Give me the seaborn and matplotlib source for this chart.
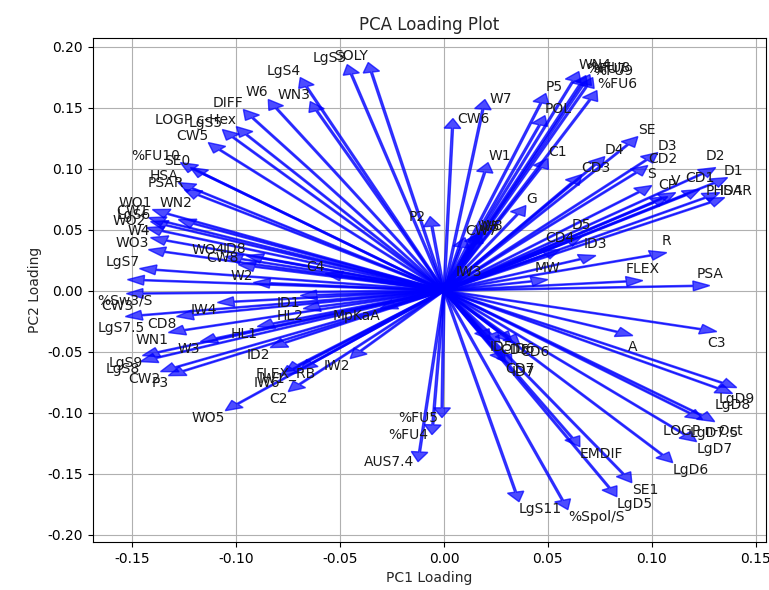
import numpy as np
import matplotlib
matplotlib.use("Agg")
import matplotlib.pyplot as plt
import seaborn as sns

# Descriptor loadings on the first two principal components (arrow tips)
features = [
    "LgS3", "SOLY", "LgS4", "WN3", "W6", "DIFF", "LgS5", "LOGP c-Hex", "CW5",
    "%FU10", "SE0", "HSA", "PSAR", "WO1", "WN2", "CW1", "LgS6", "WO2",
    "W4", "WO3", "LgS7", "CW3", "%Sw3/S", "LgS7.5", "CD8", "IW4", "WN1", "W3",
    "HL1", "ID2", "LgS9", "LgS8", "CW2", "P3", "IW2", "C2", "IW1", "IW6",
    "FLEX_RB", "WO5", "MpKaA", "ID1", "HL2", "C4", "W2", "CW8", "WO4", "ID8",
    "P2", "CW7", "W5", "W8", "IW3",
    "CW6", "W7", "W1", "G", "P5", "POL", "C1", "WN4", "%FU7", "%FU8",
    "%FU9", "%FU6", "SE", "D3", "CD2", "D4", "CD3", "S", "D2", "D1",
    "V", "CD1", "CP", "PHSAR", "ID4", "D5", "CD4", "ID3", "R", "MW",
    "FLEX", "PSA",
    "C3", "A", "LgD9", "LgD8", "LOGP n-Oct", "LgD7.5", "LgD7", "LgD6", "EMDIF", "SE1",
    "LgD5", "LgS11", "%Spol/S", "ID5", "CD5", "ID6", "CD6", "CD7", "ID7",
    "%FU5", "%FU4", "AUS7.4",
]
pc1 = [
    -0.0466, -0.0365, -0.0692, -0.0644, -0.0846, -0.0966, -0.1067, -0.1000, -0.1135,
    -0.1269, -0.1221, -0.1279, -0.1250, -0.1404, -0.1279, -0.1423, -0.1413, -0.1433,
    -0.1413, -0.1423, -0.1466, -0.1524, -0.1529, -0.1534, -0.1288, -0.1091, -0.1327, -0.1173,
    -0.0899, -0.0837, -0.1452, -0.1462, -0.1365, -0.1327, -0.0452, -0.0750, -0.0764, -0.0788,
    -0.0692, -0.1053, -0.0308, -0.0692, -0.0678, -0.0572, -0.0918, -0.0990, -0.1053, -0.0952,
    -0.0067, 0.0101, 0.0163, 0.0178, 0.0058,
    0.0043, 0.0197, 0.0212, 0.0394, 0.0490, 0.0486, 0.0500, 0.0649, 0.0683, 0.0702,
    0.0716, 0.0736, 0.0933, 0.1029, 0.0981, 0.0774, 0.0663, 0.1000, 0.1308, 0.1365,
    0.1115, 0.1231, 0.1077, 0.1327, 0.1351, 0.0663, 0.0558, 0.0731, 0.1072, 0.0500,
    0.0957, 0.1279,
    0.1313, 0.0909, 0.1409, 0.1389, 0.1245, 0.1303, 0.1216, 0.1101, 0.0654, 0.0904,
    0.0832, 0.0361, 0.0596, 0.0221, 0.0269, 0.0327, 0.0365, 0.0293, 0.0327,
    -0.0010, -0.0058, -0.0125,
]
pc2 = [
    0.1852, 0.1869, 0.1746, 0.1549, 0.1566, 0.1484, 0.1320, 0.1344, 0.1213,
    0.1049, 0.1008, 0.0885, 0.0828, 0.0664, 0.0582, 0.0598, 0.0566, 0.0516,
    0.0434, 0.0336, 0.0180, 0.0090, -0.0025, -0.0213, -0.0213, -0.0098, -0.0344, -0.0418,
    -0.0295, -0.0467, -0.0533, -0.0582, -0.0664, -0.0697, -0.0557, -0.0828, -0.0664, -0.0697,
    -0.0648, -0.0984, -0.0148, -0.0041, -0.0148, 0.0139, 0.0066, 0.0213, 0.0279, 0.0287,
    0.0607, 0.0434, 0.0467, 0.0475, 0.0098,
    0.1410, 0.1566, 0.1049, 0.0697, 0.1615, 0.1434, 0.1082, 0.1795, 0.1762, 0.1770,
    0.1746, 0.1639, 0.1262, 0.1131, 0.1025, 0.1098, 0.0951, 0.0861, 0.1008, 0.0926,
    0.0803, 0.0828, 0.0770, 0.0803, 0.0762, 0.0443, 0.0336, 0.0287, 0.0311, 0.0090,
    0.0082, 0.0041,
    -0.0336, -0.0369, -0.0795, -0.0844, -0.1057, -0.1074, -0.1238, -0.1410, -0.1279, -0.1574,
    -0.1689, -0.1730, -0.1795, -0.0402, -0.0426, -0.0418, -0.0443, -0.0582, -0.0607,
    -0.1041, -0.1180, -0.1402,
]

# labels shifted by hand (points) where they would sit on top of neighbours
label_nudge = {
    "%Sw3/S": (19, 0),
    "CW3": (4, -24),
    "LgS7.5": (14, -3),
    "WN2": (10, 7),
    "FLEX_RB": (11, 2),
    "PHSAR": (7, -7),
    "ID4": (5, -3),
    "D1": (4, -3),
}

sns.set_theme(style="ticks")
plt.rcParams.update({
    "font.family": ["DejaVu Sans"],
    "font.size": 10,
    "axes.titlesize": 12,
    "axes.labelsize": 10,
    "xtick.labelsize": 10,
    "ytick.labelsize": 10,
    "axes.edgecolor": "black",
    "axes.linewidth": 0.8,
    "xtick.color": "black",
    "ytick.color": "black",
    "xtick.major.size": 3.5,
    "ytick.major.size": 3.5,
    "xtick.major.width": 0.8,
    "ytick.major.width": 0.8,
    "grid.color": "#b0b0b0",
    "grid.linewidth": 0.8,
    "axes.axisbelow": True,
})

arrow_color = (0.0, 0.0, 1.0)
pad = 3  # points between a label and its arrow tip

fig = plt.figure(figsize=(7.69, 5.90), dpi=100)
ax = fig.add_axes([0.1209, 0.0814, 0.8752, 0.8542])
ax.set_xlim(-0.169, 0.155)
ax.set_ylim(-0.206, 0.207)

origin_px = ax.transData.transform((0.0, 0.0))
for name, x, y in zip(features, pc1, pc2):
    ax.arrow(0, 0, x, y, color=arrow_color, alpha=0.7, width=0.001,
             head_width=0.008, head_length=0.008, length_includes_head=True)
    # place the label beside the arrow tip, pushed away from the shaft
    dx, dy = ax.transData.transform((x, y)) - origin_px
    angle = np.degrees(np.arctan2(abs(dy), abs(dx)))
    sx = 1 if x >= 0 else -1
    sy = 1 if y >= 0 else -1
    ha = "left" if sx > 0 else "right"
    va = "bottom" if sy > 0 else "top"
    ox, oy = 0, 0
    if angle < 30 and sx > 0:
        ha, oy = "center", sy * pad
    elif angle > 75:
        va, ox = "center", sx * pad
    nx, ny = label_nudge.get(name, (0, 0))
    ax.annotate(name, (x, y), xytext=(ox + nx, oy + ny), textcoords="offset points",
                ha=ha, va=va, color="k", fontsize=10)

ax.set_xticks([-0.15, -0.10, -0.05, 0.00, 0.05, 0.10, 0.15])
ax.set_yticks([-0.20, -0.15, -0.10, -0.05, 0.00, 0.05, 0.10, 0.15, 0.20])
ax.xaxis.set_major_formatter(matplotlib.ticker.FormatStrFormatter("%.2f"))
ax.yaxis.set_major_formatter(matplotlib.ticker.FormatStrFormatter("%.2f"))
ax.grid(True)
ax.set_title("PCA Loading Plot")
ax.set_xlabel("PC1 Loading")
ax.set_ylabel("PC2 Loading")

fig.savefig("out.png", dpi=100)
